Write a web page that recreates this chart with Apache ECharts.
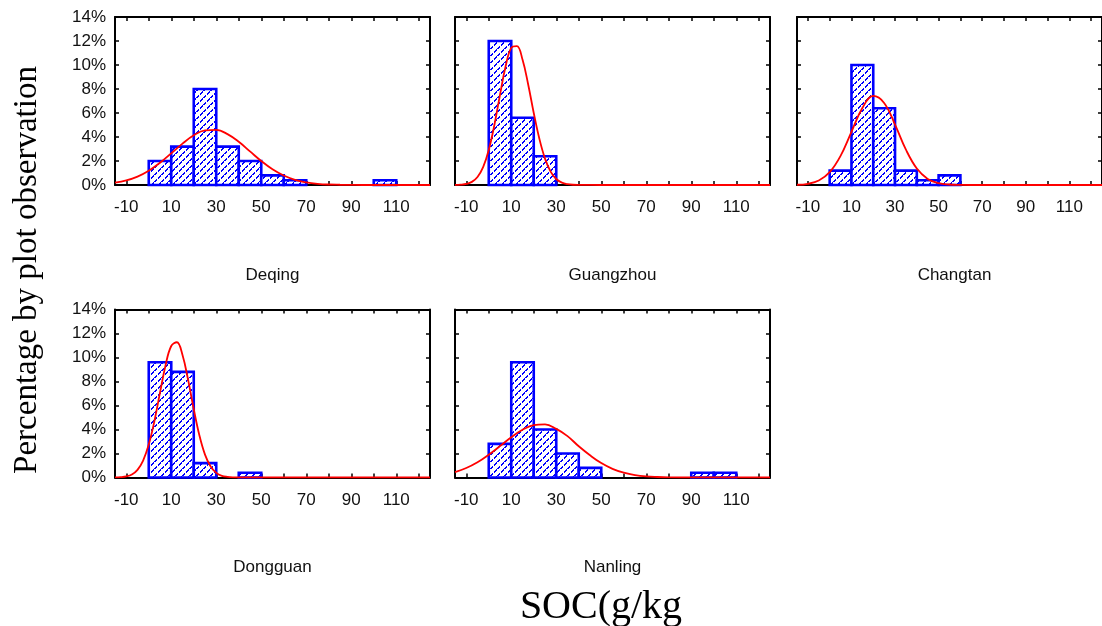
<!DOCTYPE html>
<html><head><meta charset="utf-8">
<script src="https://cdn.jsdelivr.net/npm/echarts@6/dist/echarts.min.js"></script>
<style>html,body{margin:0;padding:0;background:#fff}#c{width:1102px;height:626px}</style>
</head><body><div id="c"></div>
<script>
// ---------------- data ----------------
const siteNames = ['Deqing', 'Guangzhou', 'Changtan', 'Dongguan', 'Nanling'];
const binStarts = [0, 10, 20, 30, 40, 50, 60, 70, 80, 90, 100];
const binWidth = 10;
const deqingBars    = [2.0, 3.2, 8.0, 3.2, 2.0, 0.8, 0.4, 0, 0, 0, 0.4];
const guangzhouBars = [12.0, 5.6, 2.4, 0, 0, 0, 0, 0, 0, 0, 0];
const changtanBars  = [1.2, 10.0, 6.4, 1.2, 0.4, 0.8, 0, 0, 0, 0, 0];
const dongguanBars  = [9.6, 8.8, 1.2, 0, 0.4, 0, 0, 0, 0, 0, 0];
const nanlingBars   = [2.8, 9.6, 4.0, 2.0, 0.8, 0, 0, 0, 0, 0.4, 0.4];

const xTickLabels = ['-10', '0', '10', '20', '30', '40', '50', '60', '70', '80', '90', '100', '110', '120'];
const xMin = -15, xMax = 125;
const yMin = 0, yMax = 14, yStep = 2;

const curveXWide = [-15, -10, -5, 0, 5, 10, 15, 20, 25, 30, 35, 40, 45, 50, 55, 60, 65, 70, 75, 80, 85, 90, 95, 100, 105, 110, 115, 120, 125];
const curveXNarrow = [-15, -12.5, -10, -7.5, -5, -2.5, 0, 2.5, 5, 7.5, 10, 12.5, 15, 17.5, 20, 22.5, 25, 27.5, 30, 32.5, 35, 37.5, 40, 50, 60, 70, 80, 90, 100, 110, 120, 125];

const deqingCurve    = [0.19, 0.38, 0.70, 1.19, 1.85, 2.64, 3.45, 4.14, 4.55, 4.59, 4.24, 3.60, 2.80, 2.00, 1.31, 0.79, 0.43, 0.22, 0.10, 0.04, 0.02, 0.01, 0, 0, 0, 0, 0, 0, 0];
const changtanCurve  = [0.02, 0.10, 0.37, 1.07, 2.43, 4.43, 6.42, 7.42, 6.84, 5.03, 2.94, 1.37, 0.51, 0.15, 0.04, 0.01, 0, 0, 0, 0, 0, 0, 0, 0, 0, 0, 0, 0, 0];
const nanlingCurve   = [0.45, 0.79, 1.27, 1.90, 2.62, 3.36, 3.98, 4.37, 4.43, 4.05, 3.45, 2.60, 1.85, 1.20, 0.72, 0.40, 0.20, 0.09, 0.04, 0.01, 0, 0, 0, 0, 0, 0, 0, 0, 0];
const guangzhouCurve = [0.01, 0.03, 0.09, 0.26, 0.67, 1.49, 2.92, 5.00, 7.51, 9.89, 11.43, 11.58, 10.45, 8.40, 6.00, 3.85, 2.20, 1.12, 0.50, 0.20, 0.07, 0.02, 0.01, 0, 0, 0, 0, 0, 0, 0, 0, 0];
const dongguanCurve  = [0.01, 0.03, 0.09, 0.25, 0.64, 1.41, 2.74, 4.69, 7.07, 9.38, 10.96, 11.27, 10.21, 8.13, 5.70, 3.52, 1.91, 0.92, 0.39, 0.14, 0.05, 0.01, 0, 0, 0, 0, 0, 0, 0, 0, 0, 0];

const yAxisTitle = 'Percentage by plot observation';
const xAxisTitle = 'SOC(g/kg';

// ---------------- layout / style ----------------
const PW = 315, PH = 168;
const panels = [
  { name: siteNames[0], left: 115, top: 17,    bars: deqingBars,    cx: curveXWide,   cy: deqingCurve,    yLab: true },
  { name: siteNames[1], left: 455, top: 17,    bars: guangzhouBars, cx: curveXNarrow, cy: guangzhouCurve, yLab: false },
  { name: siteNames[2], left: 797, top: 17,    bars: changtanBars,  cx: curveXWide,   cy: changtanCurve,  yLab: false },
  { name: siteNames[3], left: 115, top: 309.5, bars: dongguanBars,  cx: curveXNarrow, cy: dongguanCurve,  yLab: true },
  { name: siteNames[4], left: 455, top: 309.5, bars: nanlingBars,   cx: curveXWide,   cy: nanlingCurve,   yLab: false }
];

// hatch pattern: crisp dashed "/" diagonals (pixel tile)
function makeHatch() {
  const n = 7;
  const c = document.createElement('canvas');
  c.width = n; c.height = n;
  const g = c.getContext('2d');
  const img = g.createImageData(n, n);
  for (let y = 0; y < n; y++) {
    for (let x = 0; x < n; x++) {
      const d = (x + y) % n;
      let blue = (d === 6 || d === 0);
      if (blue && (x % n === 3 || (d === 0 && x % n === 0))) blue = false;
      const i = (y * n + x) * 4;
      img.data[i] = blue ? 0 : 255;
      img.data[i + 1] = blue ? 0 : 255;
      img.data[i + 2] = 255;
      img.data[i + 3] = 255;
    }
  }
  g.putImageData(img, 0, 0);
  return c;
}
const hatch = { image: makeHatch(), repeat: 'repeat' };

const FONT = 'Liberation Sans, Arial, sans-serif';
const SERIF = 'Liberation Serif, Times New Roman, serif';
const lineStyle = { color: '#000', width: 2 };
const tickStyle = { color: '#000', width: 1.5 };

const grid = [], xAxis = [], yAxis = [], series = [], graphic = [];
panels.forEach((p, i) => {
  grid.push({ left: p.left, top: p.top, width: PW, height: PH, containLabel: false });
  xAxis.push({ gridIndex: i, type: 'value', min: xMin, max: xMax, show: false, axisLine: { onZero: false } });
  xAxis.push({
    gridIndex: i, type: 'category', position: 'bottom', data: xTickLabels, boundaryGap: true,
    axisLine: { show: true, onZero: false, lineStyle },
    axisTick: { show: true, inside: true, alignWithLabel: true, interval: 0, length: 4, lineStyle: tickStyle },
    axisLabel: { show: true, interval: 1, margin: 14, fontSize: 17, color: '#111', fontFamily: FONT },
    splitLine: { show: false }
  });
  xAxis.push({
    gridIndex: i, type: 'category', position: 'top', data: xTickLabels, boundaryGap: true,
    axisLine: { show: true, onZero: false, lineStyle },
    axisTick: { show: true, inside: true, alignWithLabel: true, interval: 0, length: 4, lineStyle: tickStyle },
    axisLabel: { show: false },
    splitLine: { show: false }
  });
  yAxis.push({
    gridIndex: i, type: 'value', position: 'left', min: yMin, max: yMax, interval: yStep,
    axisLine: { show: true, onZero: false, lineStyle },
    axisTick: { show: true, inside: true, length: 4, lineStyle: tickStyle },
    axisLabel: { show: p.yLab, formatter: '{value}%', margin: 9, fontSize: 17, color: '#111', fontFamily: FONT },
    splitLine: { show: false }
  });
  yAxis.push({
    gridIndex: i, type: 'value', position: 'right', min: yMin, max: yMax, interval: yStep,
    axisLine: { show: true, onZero: false, lineStyle },
    axisTick: { show: true, inside: true, length: 4, lineStyle: tickStyle },
    axisLabel: { show: false },
    splitLine: { show: false }
  });
  const barData = [];
  binStarts.forEach((s, k) => { if (p.bars[k] > 0) barData.push([s, s + binWidth, p.bars[k]]); });
  series.push({
    type: 'custom', xAxisIndex: 3 * i, yAxisIndex: 2 * i, data: barData, z: 2, silent: true,
    encode: { x: [0, 1], y: 2 },
    renderItem: function (params, api) {
      const a = api.coord([api.value(0), api.value(2)]);
      const b = api.coord([api.value(1), 0]);
      return {
        type: 'rect',
        shape: { x: a[0], y: a[1], width: b[0] - a[0], height: b[1] - a[1] },
        style: { fill: hatch, stroke: '#0000ff', lineWidth: 2.6 }
      };
    }
  });
  series.push({
    type: 'line', xAxisIndex: 3 * i, yAxisIndex: 2 * i, z: 4, silent: true,
    data: p.cx.map((x, k) => [x, p.cy[k]]),
    smooth: 0.4, showSymbol: false, symbol: 'none',
    lineStyle: { color: '#ff0000', width: 1.8 }
  });
  graphic.push({
    type: 'text', x: p.left + PW / 2, y: p.top + PH + 90,
    style: { text: p.name, fontSize: 17, fontFamily: FONT, fill: '#111', align: 'center', verticalAlign: 'middle' }
  });
});
graphic.push({
  type: 'text', x: 27, y: 270, rotation: Math.PI / 2,
  style: { text: yAxisTitle, fontSize: 33, fontFamily: SERIF, fill: '#000', align: 'center', verticalAlign: 'middle' }
});
graphic.push({
  type: 'text', x: 601, y: 607,
  style: { text: xAxisTitle, fontSize: 40, fontFamily: SERIF, fill: '#000', align: 'center', verticalAlign: 'middle' }
});

const chart = echarts.init(document.getElementById('c'), null, { renderer: 'canvas' });
chart.setOption({ backgroundColor: '#fff', animation: false, grid, xAxis, yAxis, series, graphic });
</script></body></html>
